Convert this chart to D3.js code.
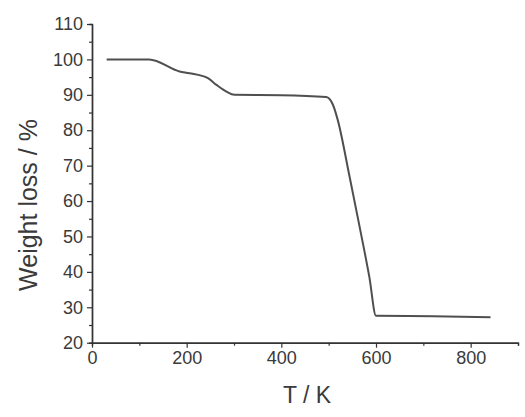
<!DOCTYPE html>
<html>
<head>
<meta charset="utf-8">
<script src="https://cdn.jsdelivr.net/npm/d3@7"></script>
<style>
  body { margin:0; background:#fff; }
  text { font-family: "Liberation Sans", Arial, sans-serif; fill:#3a3a3a; }
</style>
</head>
<body>
<div id="chart"></div>
<script>
// TGA curve
var temps   = [31, 121, 185, 206, 245, 263, 284, 301, 400, 495, 509, 519, 544, 565, 586, 600, 720, 842]
var weights = [100, 100, 96.6, 96.1, 94.7, 92.8, 90.9, 90.0, 89.9, 89.4, 87.2, 83.0, 67.0, 53.0, 38.5, 27.6, 27.5, 27.2]

var xMajor = [0, 200, 400, 600, 800]
var xMinor = [100, 300, 500, 700, 900]
var yMajor = [20, 30, 40, 50, 60, 70, 80, 90, 100, 110]
var yMinor = [25, 35, 45, 55, 65, 75, 85, 95, 105]

var w = 525
var h = 417
var m = { top:24, right:7, bottom:74, left:92 }
var axisColor = '#333'

var svg = d3.select('#chart').append('svg')
    .attr('width', w)
    .attr('height', h)

var x = d3.scaleLinear().domain([0, 900]).range([m.left, w-m.right])
var y = d3.scaleLinear().domain([20, 110]).range([h-m.bottom-0.3, m.top])

// minor ticks first, no labels
svg.append('g')
    .attr('transform', 'translate(0,' + y(20) + ')')
    .call(d3.axisBottom(x).tickValues(xMinor).tickSize(3).tickFormat(''))
svg.append('g')
    .attr('transform', 'translate(' + x(0) + ',0)')
    .call(d3.axisLeft(y).tickValues(yMinor).tickSize(3).tickFormat(''))

var xAxis = svg.append('g')
    .attr('transform', 'translate(0,' + y(20) + ')')
    .call(d3.axisBottom(x).tickValues(xMajor).tickSize(5).tickPadding(4).tickSizeOuter(0))
var yAxis = svg.append('g')
    .attr('transform', 'translate(' + x(0) + ',0)')
    .call(d3.axisLeft(y).tickValues(yMajor).tickSize(5).tickPadding(4).tickSizeOuter(0))

svg.selectAll('.domain').attr('stroke', axisColor).attr('stroke-width', 1.4)
svg.selectAll('.tick line').attr('stroke', axisColor).attr('stroke-width', 1.2)
svg.selectAll('.tick text')
    .attr('font-size', 18)
    .attr('font-family', '"Liberation Sans", Arial, sans-serif')
    .attr('fill', '#3a3a3a')

var pts = temps.map((t, i)=> [t, weights[i]])
svg.append('path')
    .datum(pts)
    .attr('fill', 'none')
    .attr('stroke', '#4f4f4f')
    .attr('stroke-width', 2)
    .attr('stroke-linejoin', 'round')
    .attr('d', d3.line().x(d=> x(d[0])).y(d=> y(d[1])).curve(d3.curveMonotoneX))

svg.append('text')
    .attr('x', 307)
    .attr('y', 403)
    .attr('text-anchor', 'middle')
    .attr('font-size', 23)
    .text('T / K')

svg.append('text')
    .attr('transform', 'translate(37,205) rotate(-90)')
    .attr('text-anchor', 'middle')
    .attr('font-size', 25)
    .text('Weight loss / %')
</script>
</body>
</html>
